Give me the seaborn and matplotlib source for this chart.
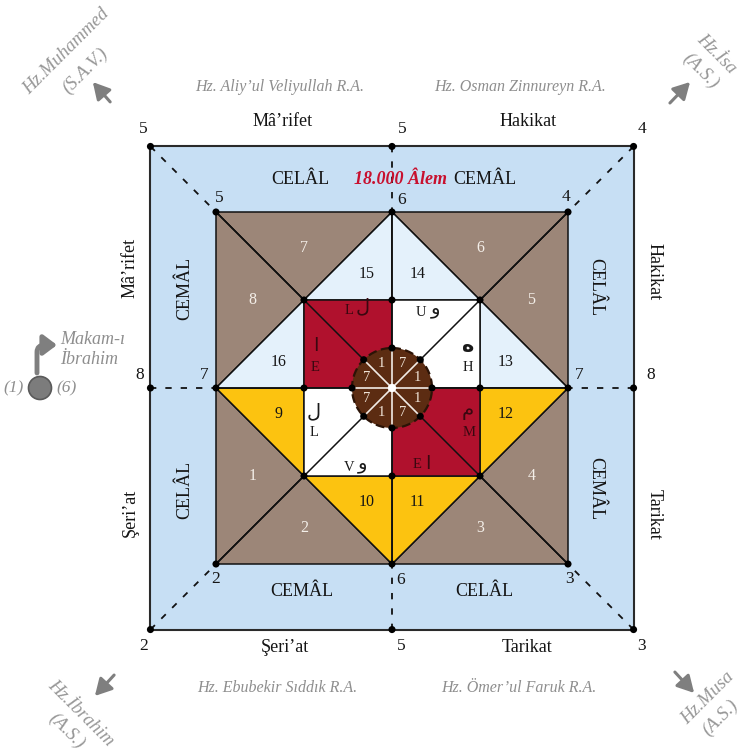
import numpy as np
import pandas as pd
import matplotlib
matplotlib.use("Agg")
import matplotlib.pyplot as plt
from matplotlib.patches import Polygon, Circle, FancyArrowPatch
from matplotlib.path import Path
import seaborn as sns

# ---------------- data ----------------
brown_ids = [7, 8, 1, 2, 3, 4, 5, 6]
inner_ids = [15, 14, 13, 12, 11, 10, 9, 16]
inner_kind = ["pale", "pale", "pale", "yellow", "yellow", "yellow", "yellow", "pale"]
quad_kind = ["red", "white", "red", "white"]          # TL, TR, BR, BL
quad_latin_a = ["L", "U", "M", "V"]
quad_arabic_a = ["ل", "و", "م", "و"]
quad_latin_b = ["E", "H", "E", "L"]
quad_arabic_b = ["ا", "ه", "ا", "ل"]
sector_values = [1, 7, 1, 7, 7, 1, 7, 1]               # ccw starting at 22.5 deg
outer_corner_labels = ["5", "4", "3", "2"]             # TL, TR, BR, BL
outer_mid_labels = ["5", "8", "5", "8"]                # top, right, bottom, left
inner_corner_labels = ["5", "4", "3", "2"]
inner_mid_labels = ["6", "7", "6", "7"]
side_top = ["Mâ’rifet", "Hakikat"]
side_bottom = ["Şeri’at", "Tarikat"]
side_left = ["Mâ’rifet", "Şeri’at"]
side_right = ["Hakikat", "Tarikat"]
band_top = ["CELÂL", "CEMÂL"]
band_bottom = ["CEMÂL", "CELÂL"]
band_left = ["CEMÂL", "CELÂL"]
band_right = ["CELÂL", "CEMÂL"]
center_title = "18.000 Âlem"
companions_top = ["Hz. Aliy’ul Veliyullah R.A.", "Hz. Osman Zinnureyn R.A."]
companions_bottom = ["Hz. Ebubekir Sıddık R.A.", "Hz. Ömer’ul Faruk R.A."]
prophet_names = ["Hz.Muhammed", "Hz.İsa", "Hz.Musa", "Hz.İbrahim"]     # TL, TR, BR, BL
prophet_subs = ["(S.A.V.)", "(A.S.)", "(A.S.)", "(A.S.)"]
makam_text = ["Makam-ı", "İbrahim"]
makam_sides = ["(1)", "(6)"]

# ---------------- style ----------------
sns.set_theme(style="white")
plt.rcParams["font.family"] = ["Liberation Serif", "DejaVu Sans"]

C_BAND = "#c7dff4"
C_BROWN = "#9c8678"
C_PALE = "#e4f1fb"
C_YELLOW = "#fcc310"
C_RED = "#b0112d"
C_WHITE = "#ffffff"
C_DISC = "#5c2c12"
C_GRAY = "#8e8e8e"
C_TXT = "#151515"
fill = {"pale": C_PALE, "yellow": C_YELLOW, "red": C_RED, "white": C_WHITE}

fig = plt.figure(figsize=(7.47, 7.55), dpi=100)
ax = fig.add_axes([0, 0, 1, 1])
ax.set_xlim(0, 747)
ax.set_ylim(755, 0)
ax.axis("off")

CX, CY, U = 392.0, 388.0, 88.0
OUT = 2.745
RC = 40.0 / U


def P(a, b):
    return (CX + a * U, CY + b * U)


def poly(pts, fc, z=3, ec="#111111", lw=1.1):
    ax.add_patch(Polygon([P(*p) for p in pts], closed=True, fc=fc, ec=ec, lw=lw, zorder=z))


def incenter(pts):
    A, B, Cc = [np.array(P(*p)) for p in pts]
    a = np.linalg.norm(B - Cc); b = np.linalg.norm(A - Cc); c = np.linalg.norm(A - B)
    return (a * A + b * B + c * Cc) / (a + b + c)


# outer band
poly([(-OUT, -OUT), (OUT, -OUT), (OUT, OUT), (-OUT, OUT)], C_BAND, z=1, ec="#2a2a2a", lw=1.5)

# dashed connectors
dash = (0, (3.5, 5))
for sx, sy in [(-1, -1), (1, -1), (1, 1), (-1, 1), (0, -1), (1, 0), (0, 1), (-1, 0)]:
    x0, y0 = P(sx * OUT, sy * OUT); x1, y1 = P(sx * 2, sy * 2)
    ax.plot([x0, x1], [y0, y1], color="#111", lw=1.3, ls=dash, zorder=2)

# brown triangles
brown_tris = [
    [(-2, -2), (0, -2), (-1, -1)],
    [(-2, -2), (-1, -1), (-2, 0)],
    [(-2, 2), (-2, 0), (-1, 1)],
    [(-2, 2), (-1, 1), (0, 2)],
    [(2, 2), (0, 2), (1, 1)],
    [(2, 2), (1, 1), (2, 0)],
    [(2, -2), (2, 0), (1, -1)],
    [(2, -2), (1, -1), (0, -2)],
]
for tri, num in zip(brown_tris, brown_ids):
    poly(tri, C_BROWN)
    x, y = incenter(tri)
    ax.text(x, y, str(num), color="#f4efe9", fontsize=11.5, ha="center", va="center", zorder=9)

inner_tris = [
    [(-1, -1), (0, -2), (0, -1)],
    [(0, -2), (1, -1), (0, -1)],
    [(1, -1), (2, 0), (1, 0)],
    [(2, 0), (1, 1), (1, 0)],
    [(1, 1), (0, 2), (0, 1)],
    [(0, 2), (-1, 1), (0, 1)],
    [(-1, 1), (-2, 0), (-1, 0)],
    [(-2, 0), (-1, -1), (-1, 0)],
]
for tri, num, kind in zip(inner_tris, inner_ids, inner_kind):
    poly(tri, fill[kind])
    x, y = incenter(tri)
    ax.text(x, y, str(num), color=C_TXT, fontsize=11.5, ha="center", va="center", zorder=9)

# central quadrants
quads = [[(-1, -1), (0, -1), (0, 0), (-1, 0)],
         [(0, -1), (1, -1), (1, 0), (0, 0)],
         [(0, 0), (1, 0), (1, 1), (0, 1)],
         [(-1, 0), (0, 0), (0, 1), (-1, 1)]]
for q, kind in zip(quads, quad_kind):
    poly(q, fill[kind])

# structural lines
for a0, b0, a1, b1 in [(-2, -2, 2, 2), (2, -2, -2, 2), (0, -2, 0, 2), (-2, 0, 2, 0)]:
    x0, y0 = P(a0, b0); x1, y1 = P(a1, b1)
    ax.plot([x0, x1], [y0, y1], color="#111", lw=1.1, zorder=4)

# letter labels in the central quadrants
dark_on = {"red": "#3a0810", "white": "#1a1a1a"}
a_pos = [(-0.42, -0.93), (0.40, -0.90), (0.86, 0.37), (-0.42, 0.86)]
b_pos = [(-0.87, -0.37), (0.86, -0.37), (0.36, 0.86), (-0.89, 0.37)]
for i in range(4):
    kind = quad_kind[i]
    col = dark_on[kind]
    ax_, ay_ = P(*a_pos[i])
    bx_, by_ = P(*b_pos[i])
    if i in (0, 1, 3):
        ax.text(ax_ - 6, ay_ + 4, quad_latin_a[i], color=col, fontsize=10.5, ha="center", va="center", zorder=9)
        ax.text(ax_ + 8, ay_, quad_arabic_a[i], color=col, fontsize=14, ha="center", va="center",
                family=["DejaVu Sans"], zorder=9)
    else:
        ax.text(ax_, ay_ - 10, quad_arabic_a[i], color=col, fontsize=14, ha="center", va="center",
                family=["DejaVu Sans"], zorder=9)
        ax.text(ax_ + 1, ay_ + 12, quad_latin_a[i], color=col, fontsize=10.5, ha="center", va="center", zorder=9)
    if i == 2:
        ax.text(bx_ - 7, by_ + 1, quad_latin_b[i], color=col, fontsize=10.5, ha="center", va="center", zorder=9)
        ax.text(bx_ + 4, by_, quad_arabic_b[i], color=col, fontsize=14, ha="center", va="center",
                family=["DejaVu Sans"], zorder=9)
    else:
        ax.text(bx_, by_ - 10, quad_arabic_b[i], color=col, fontsize=14 if quad_arabic_b[i] != "ه" else 15,
                ha="center", va="center", family=["DejaVu Sans"], zorder=9,
                fontweight="bold" if quad_arabic_b[i] == "ه" else "normal")
        ax.text(bx_, by_ + 12, quad_latin_b[i], color=col, fontsize=10.5, ha="center", va="center", zorder=9)

# central disc
ax.add_patch(Circle((CX, CY), RC * U, fc=C_DISC, ec="#2b1306", lw=1.6, ls=(0, (4, 2)), zorder=5))
for k in range(4):
    ang = np.deg2rad(45 * k)
    dx, dy = np.cos(ang) * RC * U, np.sin(ang) * RC * U
    ax.plot([CX - dx, CX + dx], [CY - dy, CY + dy], color="#f2ece6", lw=1.2, zorder=6)
ax.add_patch(Circle((CX, CY), 4.2, fc="white", ec="none", zorder=7))
for k, v in enumerate(sector_values):
    ang = np.deg2rad(22.5 + 45 * k)
    ax.text(CX + 27 * np.cos(ang), CY - 27 * np.sin(ang), str(v), color="#efe3d6",
            fontsize=10.5, ha="center", va="center", zorder=9)

# vertex dots
pts = []
for s in [(-1, -1), (1, -1), (1, 1), (-1, 1), (0, -1), (1, 0), (0, 1), (-1, 0)]:
    for r in (OUT, 2, 1):
        pts.append(P(s[0] * r, s[1] * r))
for k in range(8):
    ang = np.deg2rad(45 * k)
    pts.append(P(RC * np.cos(ang), RC * np.sin(ang)))
dots = pd.DataFrame(pts, columns=["x", "y"])
sns.scatterplot(data=dots, x="x", y="y", color="black", s=26, edgecolor="none", ax=ax, zorder=8, legend=False)
ax.set_xlim(0, 747); ax.set_ylim(755, 0); ax.axis("off")

# vertex numbers
num_fs = 12.5
corner_sign = [(-1, -1), (1, -1), (1, 1), (-1, 1)]
outer_corner_off = [(-7, -17), (8, -17), (8, 16), (-7, 16)]
for lab, s, off in zip(outer_corner_labels, corner_sign, outer_corner_off):
    x, y = P(s[0] * OUT, s[1] * OUT)
    ax.text(x + off[0], y + off[1], lab, fontsize=num_fs, color=C_TXT, ha="center", va="center", zorder=9)
mid_sign = [(0, -1), (1, 0), (0, 1), (-1, 0)]
outer_mid_off = [(10, -17), (17, -13), (9, 16), (-11, -13)]
for lab, s, off in zip(outer_mid_labels, mid_sign, outer_mid_off):
    x, y = P(s[0] * OUT, s[1] * OUT)
    ax.text(x + off[0], y + off[1], lab, fontsize=num_fs, color=C_TXT, ha="center", va="center", zorder=9)
inner_corner_off = [(3, -14), (-2, -15), (2, 15), (0, 15)]
for lab, s, off in zip(inner_corner_labels, corner_sign, inner_corner_off):
    x, y = P(s[0] * 2, s[1] * 2)
    ax.text(x + off[0], y + off[1], lab, fontsize=num_fs, color=C_TXT, ha="center", va="center", zorder=9)
inner_mid_off = [(10, -12), (11, -13), (9, 16), (-12, -13)]
for lab, s, off in zip(inner_mid_labels, mid_sign, inner_mid_off):
    x, y = P(s[0] * 2, s[1] * 2)
    ax.text(x + off[0], y + off[1], lab, fontsize=num_fs, color=C_TXT, ha="center", va="center", zorder=9)

# side words
side_fs = 13
for lab, x in zip(side_top, [283, 528]):
    ax.text(x, 122, lab, fontsize=side_fs, color=C_TXT, ha="center", va="center", zorder=9)
for lab, x in zip(side_bottom, [285, 527]):
    ax.text(x, 647, lab, fontsize=side_fs, color=C_TXT, ha="center", va="center", zorder=9)
for lab, y in zip(side_left, [268, 513]):
    ax.text(130, y, lab, fontsize=side_fs, color=C_TXT, ha="center", va="center", rotation=90, zorder=9)
for lab, y in zip(side_right, [272, 514]):
    ax.text(654, y, lab, fontsize=side_fs, color=C_TXT, ha="center", va="center", rotation=-90, zorder=9)

band_fs = 13
for lab, x in zip(band_top, [300, 485]):
    ax.text(x, 180, lab, fontsize=band_fs, color=C_TXT, ha="center", va="center", zorder=9)
for lab, x in zip(band_bottom, [302, 484]):
    ax.text(x, 591, lab, fontsize=band_fs, color=C_TXT, ha="center", va="center", zorder=9)
for lab, y in zip(band_left, [288, 490]):
    ax.text(185, y, lab, fontsize=band_fs, color=C_TXT, ha="center", va="center", rotation=90, zorder=9)
for lab, y in zip(band_right, [287, 489]):
    ax.text(596, y, lab, fontsize=band_fs, color=C_TXT, ha="center", va="center", rotation=-90, zorder=9)
ax.text(401, 180, center_title, fontsize=13, color="#c8102e", fontweight="bold", fontstyle="italic",
        ha="center", va="center", zorder=9)

# companions
for lab, x in zip(companions_top, [280, 520]):
    ax.text(x, 87, lab, fontsize=11.5, color=C_GRAY, fontstyle="italic", ha="center", va="center", zorder=9)
for lab, x in zip(companions_bottom, [277, 519]):
    ax.text(x, 688, lab, fontsize=11.5, color=C_GRAY, fontstyle="italic", ha="center", va="center", zorder=9)

# prophets (diagonal)
name_pos = [(66, 52), (716, 54), (708, 698), (81, 713)]
sub_pos = [(85, 71), (701, 71), (720, 718), (67, 731)]
rots = [45, -45, 45, -45]
for nm, sb, npos, spos, r in zip(prophet_names, prophet_subs, name_pos, sub_pos, rots):
    ax.text(*npos, nm, fontsize=13.5, color="#979797", fontstyle="italic", rotation=r,
            rotation_mode="anchor", ha="center", va="center", zorder=9)
    ax.text(*spos, sb, fontsize=13.5, color="#979797", fontstyle="italic", rotation=r,
            rotation_mode="anchor", ha="center", va="center", zorder=9)
arrows = [((112, 104), (91, 80)), ((668, 105), (692, 80)), ((673, 670), (696, 695)), ((116, 673), (93, 698))]
for a, b in arrows:
    ax.add_patch(FancyArrowPatch(a, b, arrowstyle="-|>,head_length=10,head_width=5.5", color="#7f7f7f",
                                 lw=2.2, mutation_scale=1, zorder=9))

# Makam-ı İbrahim
ax.text(60, 340, makam_text[0], fontsize=13, color=C_GRAY, fontstyle="italic", ha="left", va="center", zorder=9)
ax.text(60, 359, makam_text[1], fontsize=13, color=C_GRAY, fontstyle="italic", ha="left", va="center", zorder=9)
ax.add_patch(Circle((40, 388), 11.5, fc="#7c7c7c", ec="#5a5a5a", lw=1.2, zorder=9))
ax.text(14, 388, makam_sides[0], fontsize=12.5, color=C_GRAY, fontstyle="italic", ha="center", va="center", zorder=9)
ax.text(67, 388, makam_sides[1], fontsize=12.5, color=C_GRAY, fontstyle="italic", ha="center", va="center", zorder=9)
bent = Path([(37, 373), (37, 352), (37, 345), (45, 345), (57, 345)],
            [Path.MOVETO, Path.LINETO, Path.CURVE3, Path.CURVE3, Path.LINETO])
ax.add_patch(FancyArrowPatch(path=bent, arrowstyle="-|>,head_length=8,head_width=6", color="#7f7f7f",
                             lw=3.5, mutation_scale=1, zorder=9))

fig.savefig("out.png", dpi=100)
